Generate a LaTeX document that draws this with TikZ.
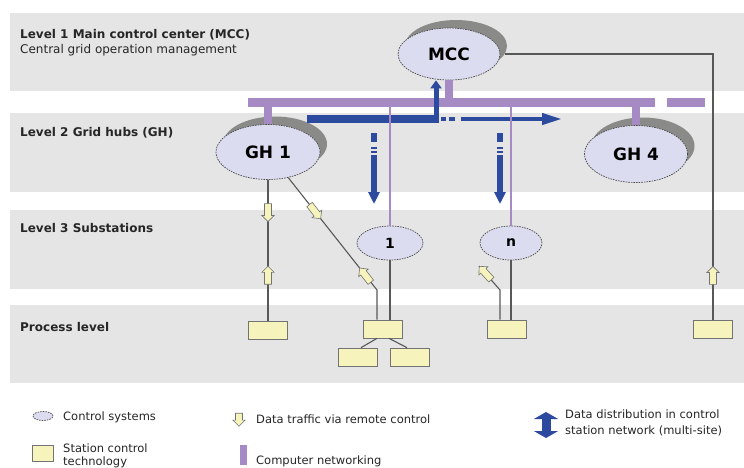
\documentclass[tikz,border=0pt]{standalone}
\usepackage{fontspec}
\setmainfont{DejaVu Sans}
\usetikzlibrary{shapes.geometric,shapes.arrows,shadows,arrows.meta}

\definecolor{band}{RGB}{228,229,228}
\definecolor{lavender}{RGB}{220,220,240}
\definecolor{shade}{RGB}{138,138,136}
\definecolor{netpurple}{RGB}{166,138,196}
\definecolor{distblue}{RGB}{44,74,158}
\definecolor{stationfill}{RGB}{246,244,188}
\definecolor{linkgray}{RGB}{88,88,88}

\begin{document}
\begin{tikzpicture}[x=1pt,y=-1pt,
    lvl/.style={anchor=west,inner xsep=0pt,text=black!85,font=\fontsize{12}{14}\selectfont\bfseries},
    ctrl/.style={ellipse,draw=black!70,dash pattern=on 1.6pt off 1pt,line width=0.7pt,fill=lavender,inner sep=0pt},
    hub/.style={ctrl,drop shadow={shadow xshift=7pt,shadow yshift=8pt,opacity=1,fill=shade},font=\fontsize{17}{20}\selectfont\bfseries},
    station/.style={draw=black!55,line width=0.7pt,fill=stationfill,minimum width=39pt,minimum height=18pt,inner sep=0pt},
    link/.style={draw=linkgray,line width=1.1pt},
    net/.style={netpurple,line width=9pt},
    netthin/.style={netpurple,line width=1.6pt},
    traffic/.style={single arrow,draw=black!55,line width=0.6pt,fill=stationfill,minimum height=18pt,
      inner xsep=0pt,inner ysep=3.2pt,single arrow head extend=2.6pt},
    dist/.style={distblue,line width=5pt},
    legend/.style={anchor=west,inner xsep=0pt,align=left,text=black!85,font=\fontsize{11.5}{13}\selectfont}]

  \useasboundingbox (0,0) rectangle (744,467);
  \fill[white] (0,0) rectangle (744,467);

  % level bands
  \foreach \ya/\yb in {13/91,113/192,210/289,305/383}
    \fill[band] (10,\ya) rectangle (744,\yb);

  \node[lvl] (lvlmcc) at (20,35) {Level 1 Main control center (MCC)};
  \node[lvl,font=\fontsize{12}{14}\selectfont] (lvlmccsub) at (20,50) {Central grid operation management};
  \node[lvl] (lvlgh) at (20,133) {Level 2 Grid hubs (GH)};
  \node[lvl] (lvlsub) at (20,228) {Level 3 Substations};
  \node[lvl] (lvlproc) at (20,327) {Process level};

  % control systems
  \node[hub,minimum width=102pt,minimum height=52pt] (mcc) at (449,54) {MCC};
  \node[hub,minimum width=104pt,minimum height=55pt] (gh1) at (268,152) {GH 1};
  \node[hub,minimum width=103pt,minimum height=57pt] (gh4) at (636,154) {GH 4};
  \node[ctrl,minimum width=66pt,minimum height=34pt,font=\fontsize{14}{16}\selectfont\bfseries] (sub1) at (390,243) {1};
  \node[ctrl,minimum width=62pt,minimum height=34pt,font=\fontsize{14}{16}\selectfont\bfseries] (subn) at (511,243) {n};

  % station control technology
  \node[station] (pa) at (268,330) {};
  \node[station] (pb) at (383,329) {};
  \node[station] (pbl) at (358,357) {};
  \node[station] (pbr) at (410,357) {};
  \node[station] (pc) at (507,329) {};
  \node[station] (pd) at (713,329) {};

  % computer networking
  \coordinate (busw) at (248,102);
  \coordinate (buse) at (655,102);
  \coordinate (busxw) at (667,102);
  \coordinate (busxe) at (705,102);
  \draw[net] (busw) -- (buse);
  \draw[net] (busxw) -- (busxe);
  \draw[net,line width=8pt] (mcc.south) -- (mcc.south |- busw);
  \draw[net,line width=8pt] (gh1.north) -- (gh1.north |- busw);
  \draw[net,line width=8pt] (gh4.north) -- (gh4.north |- busw);

  % data distribution
  \coordinate (dstart) at (307,119);
  \coordinate (dknee) at (436,119);
  \coordinate (dend) at (562,119);
  \draw[dist,line width=8pt] (dstart) -- ([xshift=2pt]dknee);
  \draw[dist,-{Triangle[width=11pt,length=8pt]}] ([yshift=-4pt]dknee) -- (dknee |- mcc.south);
  \draw[dist,line width=4pt,dash pattern=on 5pt off 3pt on 6pt off 6pt on 200pt,
    -{Triangle[width=11pt,length=20pt]}] ([xshift=5pt]dknee) -- (dend);
  \foreach \x/\n in {374/a,500/b} {
    \coordinate (dtop\n) at (\x,133);
    \coordinate (dbot\n) at (\x,204);
    \draw[dist,line width=6pt,dash pattern=on 9pt off 5pt on 2pt off 2pt on 2pt off 2pt on 100pt,
      -{Triangle[width=11pt,length=12pt]}] (dtop\n) -- (dbot\n);
  }

  \draw[netthin] (sub1.north |- busw) -- (sub1.north);
  \draw[netthin] (subn.north |- busw) -- (subn.north);

  % remote control links
  \coordinate (kb) at (377,290);
  \coordinate (kc) at (500,290);
  \coordinate (tc) at (479,266);
  \draw[link] (gh1) -- (pa)
    node[traffic,pos=0.22,rotate=-90] (tra1) {}
    node[traffic,pos=0.69,rotate=90] (tra2) {};
  \draw[link] (gh1) -- (kb)
    node[traffic,pos=0.29,rotate=-52] (trb1) {}
    node[traffic,pos=0.88,rotate=128] (trb2) {}
    -- (kb |- pb.north);
  \draw[link] (sub1) -- (sub1 |- pb.north);
  \draw[link] ([xshift=-6pt]pb.south) -- ([xshift=3pt]pbl.north);
  \draw[link] ([xshift=6pt]pb.south) -- ([xshift=-3pt]pbr.north);
  \draw[link] (subn) -- (subn |- pc.north);
  \draw[link] (pc.north -| kc) -- (kc) -- (tc)
    node[traffic,pos=1,anchor=tip,rotate=132] (trc) {};
  \draw[link] ([xshift=5pt]mcc.east) -- (pd.north |- mcc.east) -- (pd.north)
    node[traffic,pos=0.84,rotate=90] (trd) {};

  % legend
  \node[ctrl,minimum width=20pt,minimum height=9pt] (keyctrl) at (43,416) {};
  \node[legend] (keyctrltxt) at (63,417) {Control systems};
  \node[station,minimum width=21pt,minimum height=16pt] (keystation) at (43,453) {};
  \node[legend] (keystationtxt) at (63,456) {Station control\\technology};
  \node[traffic,minimum height=13pt,rotate=-90] (keytraffic) at (239,418) {};
  \node[legend] (keytraffictxt) at (256,419) {Data traffic via remote control};
  \fill[netpurple] (239.5,445) rectangle (246.5,465);
  \node[legend] (keynettxt) at (256,461) {Computer networking};
  \coordinate (keydistn) at (546,412);
  \coordinate (keydists) at (546,438);
  \draw[distblue,line width=9pt,{Triangle[width=24pt,length=7pt]}-{Triangle[width=24pt,length=7pt]}] (keydistn) -- (keydists);
  \node[legend,font=\fontsize{11.5}{16}\selectfont] (keydisttxt) at (565,423) {Data distribution in control\\station network (multi-site)};
\end{tikzpicture}
\end{document}
